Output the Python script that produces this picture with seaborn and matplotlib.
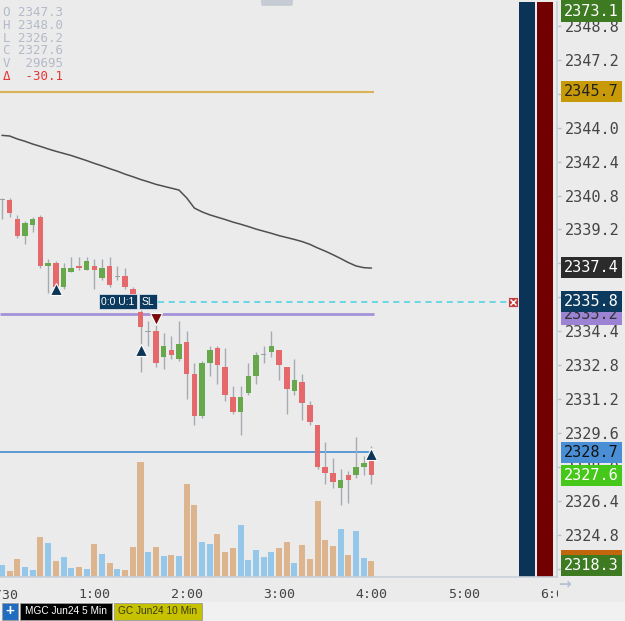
import numpy as np
import pandas as pd
import matplotlib
matplotlib.use("Agg")
import matplotlib.pyplot as plt
import seaborn as sns
from matplotlib.patches import Rectangle, FancyBboxPatch
from matplotlib.transforms import blended_transform_factory

# 5 min bars, 0:00 -> 4:00
opens = [2340.6, 2340.6, 2339.7, 2338.9, 2339.4, 2339.8, 2337.5, 2337.6, 2336.5, 2337.2,
         2337.5, 2337.3, 2337.5, 2336.9, 2337.5, 2337.0, 2337.0, 2336.4, 2335.3, 2334.4,
         2334.4, 2333.2, 2333.5, 2333.1, 2333.9, 2332.4, 2330.4, 2332.9, 2333.6, 2332.7,
         2331.3, 2330.6, 2331.5, 2332.3, 2333.3, 2333.4, 2333.5, 2332.7, 2331.6, 2332.0,
         2330.9, 2330.0, 2328.0, 2327.7, 2327.0, 2327.6, 2327.6, 2328.0, 2328.4]
highs = [2340.7, 2340.7, 2339.9, 2339.6, 2339.8, 2339.9, 2337.8, 2337.7, 2337.6, 2337.9,
         2337.9, 2337.9, 2337.8, 2337.8, 2337.9, 2337.5, 2337.4, 2336.5, 2335.4, 2334.9,
         2335.1, 2334.3, 2334.2, 2334.9, 2334.4, 2332.9, 2333.0, 2333.7, 2333.7, 2333.6,
         2331.8, 2331.8, 2332.9, 2333.4, 2333.7, 2334.4, 2333.5, 2332.7, 2333.1, 2332.4,
         2331.1, 2330.0, 2329.2, 2328.4, 2327.9, 2327.8, 2329.4, 2328.5, 2329.0]
lows = [2339.7, 2339.8, 2338.8, 2338.5, 2339.1, 2337.4, 2336.2, 2336.1, 2336.4, 2337.2,
        2337.3, 2337.3, 2336.4, 2336.8, 2336.5, 2336.8, 2336.4, 2336.0, 2332.5, 2333.7,
        2332.7, 2332.6, 2333.1, 2333.0, 2331.2, 2330.0, 2330.3, 2332.3, 2331.9, 2331.1,
        2330.5, 2329.5, 2331.4, 2331.9, 2332.9, 2333.2, 2332.1, 2330.5, 2331.4, 2330.2,
        2330.0, 2327.9, 2327.2, 2327.0, 2326.2, 2326.3, 2327.5, 2327.6, 2327.2]
closes = [2340.6, 2340.0, 2338.9, 2339.5, 2339.7, 2337.5, 2337.6, 2336.5, 2337.4, 2337.4,
          2337.4, 2337.7, 2337.3, 2337.4, 2336.6, 2337.0, 2336.5, 2336.1, 2334.6, 2334.4,
          2332.9, 2333.7, 2333.3, 2333.8, 2332.4, 2330.4, 2332.9, 2333.5, 2332.8, 2331.4,
          2330.6, 2331.3, 2332.3, 2333.3, 2333.3, 2333.7, 2332.8, 2331.7, 2332.1, 2331.0,
          2330.1, 2328.0, 2327.7, 2327.3, 2327.4, 2327.4, 2328.0, 2328.2, 2327.6]
volumes = [240, 120, 360, 200, 140, 800, 680, 320, 400, 180,
           200, 160, 660, 460, 280, 160, 140, 600, 2300, 500,
           600, 420, 440, 420, 1860, 1440, 700, 660, 860, 500,
           580, 1040, 340, 540, 400, 500, 580, 700, 280, 640,
           360, 1520, 740, 620, 960, 440, 920, 380, 320]
ma_vals = [2343.64, 2343.61, 2343.47, 2343.36, 2343.23, 2343.12, 2343.00, 2342.89, 2342.79, 2342.69,
           2342.57, 2342.45, 2342.32, 2342.20, 2342.07, 2341.95, 2341.81, 2341.69, 2341.56, 2341.45,
           2341.33, 2341.24, 2341.15, 2341.06, 2340.69, 2340.21, 2340.03, 2339.89, 2339.78, 2339.67,
           2339.55, 2339.45, 2339.34, 2339.22, 2339.12, 2339.02, 2338.91, 2338.82, 2338.73, 2338.63,
           2338.50, 2338.33, 2338.18, 2338.01, 2337.83, 2337.64, 2337.48, 2337.40, 2337.38]

time_ticks = [0, 12, 24, 36, 48, 60, 72]
time_labels = ["4/30", "1:00", "2:00", "3:00", "4:00", "5:00", "6:00"]
price_ticks = [2323.2, 2324.8, 2326.4, 2328.0, 2329.6, 2331.2, 2332.8, 2334.4,
               2336.0, 2337.6, 2339.2, 2340.8, 2342.4, 2344.0, 2345.6, 2347.2, 2348.8]

level_gold = 2345.7
level_purple = 2335.2
level_blue = 2328.7
level_stop = 2335.8
long_marks = [7, 18, 48]
long_prices = [2336.4, 2333.5, 2328.6]
short_marks = [20]
short_prices = [2335.0]

info_lines = ["O 2347.3", "H 2348.0", "L 2326.2", "C 2327.6", "V  29695"]
delta_line = "\u0394  -30.1"

W, H = 625, 621
def fx(px):
    return px / W
def fy(py):
    return 1 - py / H

sns.set_style("white")
plt.rcParams["font.family"] = ["DejaVu Sans"]
BG = "#ebebeb"

fig = plt.figure(figsize=(W / 100, H / 100), dpi=100, facecolor=BG)
ax = fig.add_axes([0, fy(577), fx(557), (577 - 2) / H])
ax_v = ax.twinx()
ax_v.set_zorder(0)
ax.set_zorder(1)
ax.patch.set_visible(False)
ax_v.patch.set_visible(False)

t = np.arange(len(opens))
o = np.array(opens)
c = np.array(closes)

# volume
df = pd.DataFrame({"t": t, "vol": volumes,
                   "dir": np.where(c >= o, "up", "down")})
sns.barplot(data=df, x="t", y="vol", hue="dir",
            palette={"up": "#95c7ea", "down": "#dcb48e"},
            native_scale=True, width=0.78, dodge=False, saturation=1,
            linewidth=0, errorbar=None, legend=False, ax=ax_v)
ax_v.set_ylim(0, 11500)
ax_v.yaxis.set_visible(False)
for s in ax_v.spines.values():
    s.set_visible(False)

# horizontal levels
ax.hlines(level_gold, -0.25, 48.3, color="#d8b456", lw=1.5, zorder=1)
ax.hlines(level_purple, -0.25, 48.3, color="#a592d8", lw=2, zorder=1)
ax.hlines(level_blue, -0.25, 48.3, color="#5b9ad8", lw=1.4, zorder=1)
ax.hlines(level_stop, 20.3, 65.7, color="#47d3e4", lw=1.1,
          linestyles=(0, (4, 3)), zorder=1)
ax.plot([66.4], [level_stop], marker="s", ms=7.5, mfc="#c43c3c", mec="#eeeeee",
        mew=0.6, ls="none", zorder=4)
ax.plot([66.4], [level_stop], marker="x", ms=4, mec="white", mew=1.0,
        ls="none", zorder=5)

# bid/ask columns
ax.axvspan(67.17, 69.25, color="#0b3357", lw=0, zorder=1)
ax.axvspan(69.51, 71.59, color="#720000", lw=0, zorder=1)

# moving average
sns.lineplot(x=t, y=ma_vals, color="#4f4f4f", lw=1.1, ax=ax, zorder=2)

# candles
body_col = np.where(c > o, "#67a84c", np.where(c < o, "#e5686a", "#9ca1a8"))
ax.vlines(t, lows, highs, color="#a6aab1", lw=1.0, zorder=2)
height = np.where(np.abs(c - o) < 0.01, 0.06, np.abs(c - o))
bottom = np.where(np.abs(c - o) < 0.01, o - 0.03, np.minimum(o, c))
ax.bar(t, height, bottom=bottom, width=0.72, color=body_col, lw=0, zorder=3)

ax.plot(long_marks, long_prices, marker="^", ms=8, mfc="#0c3558", mec="white",
        mew=0.8, ls="none", zorder=5)
ax.plot(short_marks, short_prices, marker="v", ms=8, mfc="#7a0a0a", mec="white",
        mew=0.8, ls="none", zorder=5)

for xt, txt in [(15.08, "0:0 U:1"), (18.98, "SL")]:
    ax.text(xt, level_stop, txt, color="white", fontsize=7.5,
            family=["Liberation Sans", "DejaVu Sans"], ha="center", va="center",
            zorder=6, bbox=dict(boxstyle="square,pad=0.25", fc="#0c3a5e",
                                ec="#d8e0ea", lw=0.6))

# axes styling
ax.set_ylim(2322.81, 2349.93)
ax.set_xlim(-0.25, 72.1)
ax.set_xticks(time_ticks, time_labels)
ax.yaxis.tick_right()
ax.set_yticks(price_ticks, [f"{p:.1f}" for p in price_ticks])
ax.set_xlabel("")
ax.set_ylabel("")
ax.tick_params(axis="x", length=5, width=1, pad=3, color="#b9c3d0",
               labelcolor="#444444", labelsize=9.5,
               labelfontfamily="DejaVu Sans Mono")
ax.tick_params(axis="y", length=3, width=1, pad=3, color="#b9c3d0",
               labelcolor="#454545", labelsize=11,
               labelfontfamily="DejaVu Sans Mono")
for side in ["top", "left"]:
    ax.spines[side].set_visible(False)
for side in ["bottom", "right"]:
    ax.spines[side].set_color("#c9d0da")
    ax.spines[side].set_linewidth(1.2)

# price flags on the right scale
tr = blended_transform_factory(fig.transFigure, ax.transData)
flags = [
    (2323.6, "2323.6", "#c0660c", "#c0660c"),
    (level_gold, "2345.7", "#c99a08", "#222222"),
    (2337.4, "2337.4", "#2b2b2b", "white"),
    (level_purple, "2335.2", "#9c83d3", "#333333"),
    (level_stop, "2335.8", "#0c3a5e", "white"),
    (level_blue, "2328.7", "#4a8ed5", "#111111"),
    (2327.6, "2327.6", "#46c81a", "white"),
]
for i, (p, lab, fc, tc) in enumerate(flags):
    ax.text(fx(564), p, lab, transform=tr, ha="left", va="center", color=tc,
            fontsize=11, family="DejaVu Sans Mono", clip_on=False, zorder=7 + i,
            bbox=dict(boxstyle="square,pad=0.2", fc=fc, ec="none"))
for ypx, lab in [(11, "2373.1"), (565.5, "2318.3")]:
    ax.text(fx(564), fy(ypx), lab, transform=fig.transFigure, ha="left",
            va="center", color="white", fontsize=11, family="DejaVu Sans Mono",
            clip_on=False, zorder=20,
            bbox=dict(boxstyle="square,pad=0.2", fc="#3d7a22", ec="none"))

# OHLC info block
for k, line in enumerate(info_lines):
    fig.text(fx(3), fy(13 + 12.6 * k), line, color="#b3bac8", fontsize=9,
             family="DejaVu Sans Mono", va="center", ha="left")
fig.text(fx(3), fy(76), delta_line, color="#e83535", fontsize=9,
         family="DejaVu Sans Mono", va="center", ha="left")

# cover of the time strip under the price scale, bottom tab bar
fig.patches.append(Rectangle((fx(558), fy(602)), 1 - fx(558), (602 - 578) / H,
                             transform=fig.transFigure, fc=BG, ec="none", zorder=5))
fig.text(fx(558), fy(584), "\u2192", color="#b5c2d3", fontsize=11,
         fontweight="bold", va="center", ha="left", zorder=6)
fig.patches.append(Rectangle((0, 0), 1, (H - 602) / H, transform=fig.transFigure,
                             fc="#f1f1f1", ec="none", zorder=5))
fig.patches.append(FancyBboxPatch((fx(263), fy(4)), fx(28), 4 / H,
                                  boxstyle="round,pad=0.003",
                                  transform=fig.transFigure, fc="#c6cbd4",
                                  ec="none", zorder=5))
tabs = [(2, 18, "+", "#1f6cc0", "white", 11),
        (20, 112, "MGC Jun24 5 Min", "#000000", "white", 7.3),
        (114, 202, "GC Jun24 10 Min", "#c6c200", "#3a3a10", 7.3)]
for x0, x1, lab, fc, tc, fs in tabs:
    fig.patches.append(Rectangle((fx(x0), fy(620)), fx(x1 - x0), 17 / H,
                                 transform=fig.transFigure, fc=fc,
                                 ec="#9a9a9a", lw=0.6, zorder=6))
    fig.text(fx((x0 + x1) / 2), fy(611.5), lab, color=tc, fontsize=fs,
             family=["Liberation Sans", "DejaVu Sans"],
             fontweight="bold" if lab == "+" else "normal",
             ha="center", va="center", zorder=7)

fig.savefig("out.png", dpi=100, facecolor=BG)
